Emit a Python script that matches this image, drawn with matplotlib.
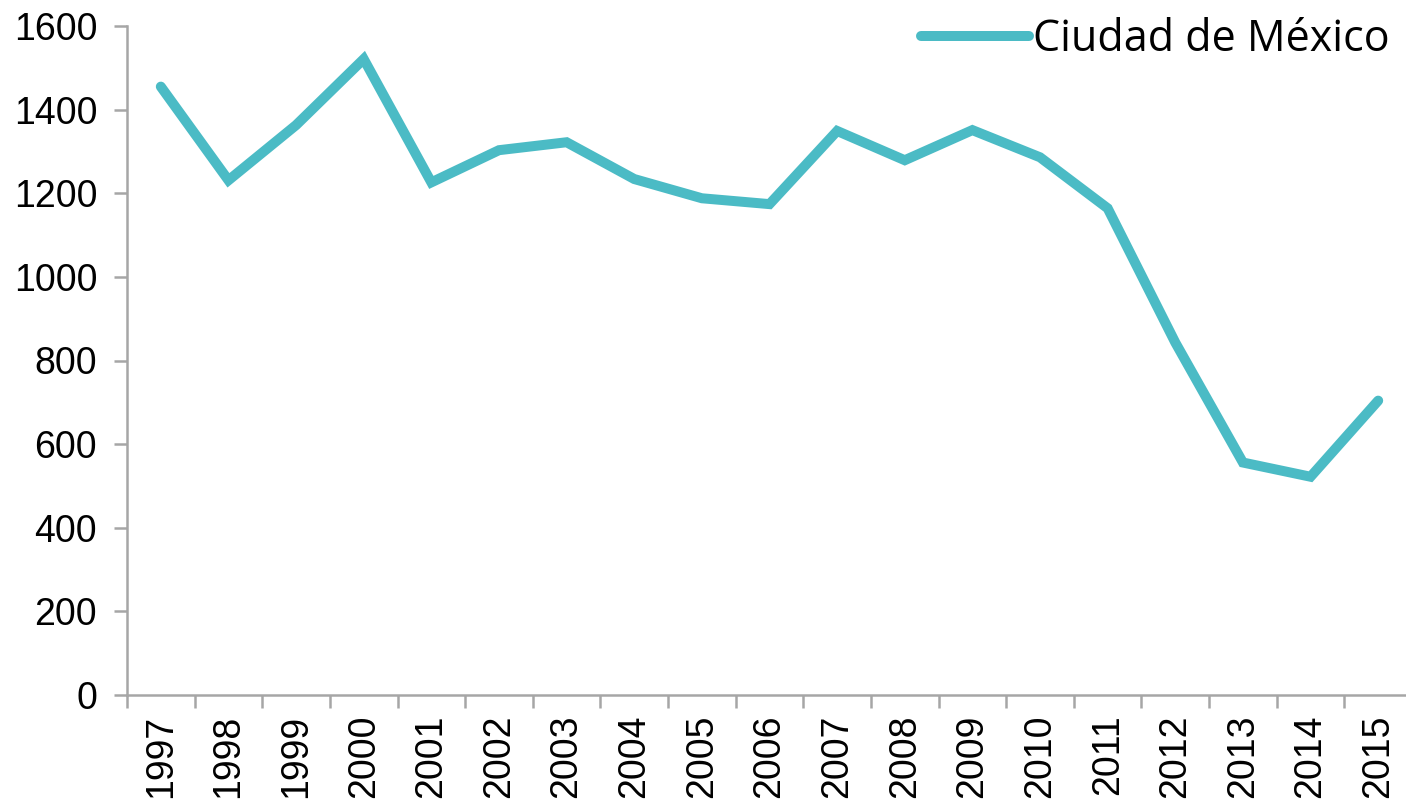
import matplotlib.pyplot as plt
import numpy as np

years = ['1997', '1998', '1999', '2000', '2001', '2002', '2003', '2004', '2005', '2006',
         '2007', '2008', '2009', '2010', '2011', '2012', '2013', '2014', '2015']
cdmx = [1455, 1231, 1363, 1521, 1226, 1303, 1322, 1234, 1188, 1174,
        1349, 1279, 1351, 1286, 1164, 843, 556, 522, 704]
yticks = [0, 200, 400, 600, 800, 1000, 1200, 1400, 1600]

line_color = '#4BBBC5'
axis_color = '#A6A6A6'

fig = plt.figure(figsize=(14.06, 8), dpi=100)
ax = fig.add_axes([127 / 1406, 105 / 800, 1285 / 1406, 669 / 800])

x = np.arange(len(years))
ax.plot(x, cdmx, color=line_color, linewidth=7.2, solid_capstyle='round',
        solid_joinstyle='miter', label='Ciudad de México')

ax.set_xlim(-0.5, len(years) - 0.5)
ax.set_ylim(0, 1600)

for s in ['top', 'right']:
    ax.spines[s].set_visible(False)
for s in ['left', 'bottom']:
    ax.spines[s].set_color(axis_color)
    ax.spines[s].set_linewidth(1.8)

ax.set_yticks(yticks)
ax.set_yticklabels([str(v) for v in yticks], fontfamily='Liberation Sans', fontsize=27)
ax.tick_params(axis='y', length=9.5, width=1.8, color=axis_color, pad=12)

ax.set_xticks(x)
ax.set_xticklabels(years, rotation=90, fontfamily='Liberation Sans', fontsize=27)
ax.tick_params(axis='x', which='major', length=0, pad=14)
ax.set_xticks(np.arange(-0.5, len(years), 1), minor=True)
ax.tick_params(axis='x', which='minor', length=9, width=1.8, color=axis_color)

# legend sits top right, Calibri-like font
leg = ax.legend(loc='upper right', bbox_to_anchor=(1407 / 1406, 1.0),
                bbox_transform=fig.transFigure, frameon=False,
                prop={'family': 'Open Sans', 'size': 31},
                handlelength=2.5, handletextpad=0.1, borderaxespad=0)
for h in leg.get_lines():
    h.set_linewidth(7.2)
    h.set_solid_capstyle('round')

fig.savefig('out.png', dpi=100)
